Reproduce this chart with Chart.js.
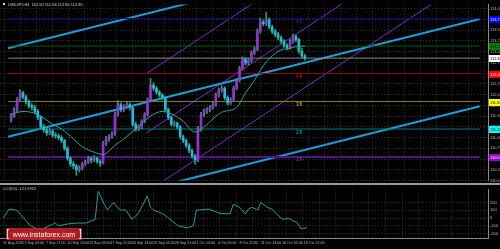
<!DOCTYPE html>
<html>
<head>
<meta charset="utf-8">
<script src="https://cdn.jsdelivr.net/npm/chart.js@4.4.0/dist/chart.umd.js"></script>
<style>
    html, body { margin: 0; padding: 0; background: #000; }
    #wrap { position: relative; width: 500px; height: 249px; overflow: hidden; background: #000; }
    #wrap canvas { position: absolute; left: 0; }
    #main { top: 0; }
    #sub { top: 185px; }
    #logo {
        position: absolute; left: 6px; top: 228px; width: 76px; height: 12px;
        background: rgba(200, 32, 42, 0.88); color: #fff;
        font: 7px "Liberation Sans", Arial, sans-serif; line-height: 12px;
        text-align: center; white-space: nowrap;
    }
    #logo b { font-weight: normal; font-size: 10px; }
</style>
</head>
<body>
<div id="wrap">
    <canvas id="main" width="500" height="185"></canvas>
    <canvas id="sub" width="500" height="64"></canvas>
    <div id="logo"><b>[</b>&nbsp; www.instaforex.com &nbsp;<b>]</b></div>
</div>
<script>
// ---- data ----
const symbolTitle = 'USDJPY,H4  112.90 112.94 112.80 112.85';
const cciTitle = 'CCI(50) -121.9952';

const opens = [111.42,111.50,111.65,111.88,112.04,111.95,111.83,111.74,111.70,111.61,
111.47,111.25,111.18,111.11,111.16,111.06,111.04,111.00,110.93,110.75,
110.52,110.39,110.34,110.25,110.29,110.39,110.43,110.52,110.48,110.52,
110.45,110.41,110.86,110.97,111.02,111.09,111.54,111.77,111.65,111.72,
111.77,111.70,111.31,111.20,111.25,111.38,111.54,111.88,112.22,112.15,
112.06,111.99,111.93,111.65,111.47,111.31,111.34,111.25,111.02,110.93,
110.82,110.70,110.57,110.48,111.20,111.54,111.61,111.65,111.70,111.77,
111.99,112.11,112.15,111.93,111.81,111.88,112.15,112.33,112.61,112.83,
112.74,112.79,112.97,113.06,113.47,113.69,113.65,113.74,113.58,113.47,
113.40,113.33,113.24,113.15,113.10,113.24,113.35,113.28,113.01,112.90];

const highs = [111.56,111.70,111.93,112.12,112.08,111.99,111.88,111.79,111.75,111.66,
111.50,111.31,111.22,111.21,111.19,111.12,111.09,111.05,110.96,110.79,
110.56,110.44,110.38,110.35,110.43,110.48,110.57,110.56,110.58,110.55,
110.49,110.92,111.03,111.07,111.14,111.60,111.86,111.81,111.77,111.83,
111.81,111.73,111.36,111.30,111.42,111.58,111.92,112.38,112.28,112.19,
112.10,112.03,111.96,111.69,111.51,111.39,111.37,111.28,111.06,110.97,
110.86,110.74,110.61,111.26,111.59,111.67,111.70,111.75,111.82,112.04,
112.16,112.21,112.18,111.97,111.93,112.20,112.38,112.66,112.88,112.87,
112.85,113.02,113.12,113.53,113.78,113.74,113.92,113.79,113.62,113.52,
113.45,113.37,113.28,113.19,113.29,113.41,113.39,113.31,113.08,112.94];

const lows = [111.36,111.47,111.60,111.84,111.90,111.78,111.69,111.64,111.55,111.42,
111.20,111.12,111.05,111.07,111.01,110.99,110.95,110.88,110.70,110.47,
110.33,110.28,110.12,110.20,110.25,110.35,110.40,110.42,110.44,110.40,
110.33,110.38,110.82,110.91,110.98,111.05,111.50,111.60,111.61,111.68,
111.64,111.26,111.15,111.16,111.21,111.34,111.50,111.85,112.10,112.01,
111.94,111.88,111.60,111.42,111.27,111.26,111.20,110.97,110.88,110.77,
110.65,110.52,110.38,110.44,111.15,111.49,111.56,111.60,111.66,111.73,
111.95,112.06,111.88,111.76,111.77,111.84,112.11,112.29,112.57,112.69,
112.70,112.75,112.93,113.02,113.43,113.60,113.61,113.53,113.42,113.35,
113.28,113.19,113.10,113.04,113.06,113.20,113.23,112.96,112.85,112.80];

const closes = [111.50,111.65,111.88,112.04,111.95,111.83,111.74,111.70,111.61,111.47,
111.25,111.18,111.11,111.16,111.06,111.04,111.00,110.93,110.75,110.52,
110.39,110.34,110.25,110.29,110.39,110.43,110.52,110.48,110.52,110.45,
110.41,110.86,110.97,111.02,111.09,111.54,111.77,111.65,111.72,111.77,
111.70,111.31,111.20,111.25,111.38,111.54,111.88,112.22,112.15,112.06,
111.99,111.93,111.65,111.47,111.31,111.34,111.25,111.02,110.93,110.82,
110.70,110.57,110.48,111.20,111.54,111.61,111.65,111.70,111.77,111.99,
112.11,112.15,111.93,111.81,111.88,112.15,112.33,112.61,112.83,112.74,
112.79,112.97,113.06,113.47,113.69,113.65,113.74,113.58,113.47,113.40,
113.33,113.24,113.15,113.10,113.24,113.35,113.28,113.01,112.90,112.85];

// moving average (teal curve)
const maIndex = [0,4,9,14,17,21,24,28,31,35,38,42,47,51,55,58,62,65,71,76,79,82,85,88,91,94,97,99];
const maValues = [111.54,111.61,111.54,111.31,111.20,110.97,110.79,110.66,110.61,110.82,110.97,111.20,111.50,111.61,
                  111.52,111.38,111.13,111.25,111.59,111.70,112.04,112.33,112.67,112.90,113.04,113.08,113.13,113.13];

// Murray levels
const levelValues = [113.77, 113.13, 112.49, 111.84, 111.20, 110.55];
const levelNames = ['6/8', '5/8', '4/8', '3/8', '2/8', '1/8'];
const lastPrice = 112.85;

// trend channels (bar index, price)
const blueX = [-1, 158];
const blueUpper = [113.08, 115.82];
const blueMiddle = [111.02, 113.76];
const blueLowerX = [50, 158];
const blueLower = [109.87, 111.73];
const purpleX = [45.6, 160];
const purpleUpper = [112.49, 117.70];
const purpleMiddle = [111.11, 116.32];
const purpleLower = [109.73, 114.94];

// CCI sub window
const cciIndex = [0,2,4,5,7,9,11,13,15,17,18,21,24,27,30,31,32,33,34,36,38,40,42,44,47,48,49,52,54,57,
                  60,62,63,64,67,71,74,75,77,79,80,81,83,84,86,88,89,91,93,96,97,98,99];
const cciValues = [-4,116,104,80,-16,-100,-136,-136,-100,-64,-100,-76,-64,-64,-16,344,260,176,104,200,104,104,-16,56,284,140,104,56,-4,-100,
                   -124,-100,104,104,116,56,56,176,140,56,116,140,104,200,140,104,56,-16,-4,-64,-136,-136,-122];

// axis labels
const priceTicks = [110.00,110.25,110.50,110.75,111.00,111.25,111.50,111.75,112.00,112.25,112.50,112.75,113.00,113.25,113.50,113.75,114.00];
const cciTicks = [200, 100, 0, -100, -200];
const dateIdx = [0, 7, 14, 21, 28, 35, 42, 49, 56, 63, 70, 77, 84, 91, 98];
const dateLabels = ['31 Aug 2018','3 Sep 03:00','7 Sep 17:00','10 Sep 13:00','13 Sep 09:00','17 Sep 21:00','20 Sep 13:00',
                    '25 Sep 05:00','26 Sep 21:00','1 Oct 13:00','4 Oct 05:00','8 Oct 21:00','11 Oct 13:00','16 Oct 05:00','18 Oct 21:00'];

// ---- styles ----
const FONT = '"Liberation Sans", Arial, sans-serif';
const BULL = '#9a2fd8';
const BEAR = '#22b8ec';
const WICK = '#2aa84c';
const GRID = '#363636';
const levelLineColors = ['#0c0c86', '#0a5a0a', '#a00000', '#858500', '#007f7f', '#54128a'];
const levelTextColors = ['#2a2ad0', '#1a8a1a', '#d01010', '#c8c800', '#10b0b0', '#8a2be2'];
const levelBoxColors = ['#0000ff', '#008000', '#ff0000', '#ffff00', '#00ffff', '#9400d3'];
const levelBoxText = ['#fff', '#000', '#fff', '#000', '#000', '#fff'];
const X_MIN = -1, X_MAX = 158;

const gridCols = s => {
    const t = [];
    for (let v = 0.4; v <= X_MAX; v += 5.4) t.push({ value: v });
    s.ticks = t;
};

const seg = (xs, ys) => [{ x: xs[0], y: ys[0] }, { x: xs[1], y: ys[1] }];
const lineDs = (data, color, width) => ({
    type: 'line', data, borderColor: color, borderWidth: width,
    pointRadius: 0, fill: false, order: 5
});

const datasets = [];
levelValues.forEach((v, i) => {
    datasets.push(lineDs(seg(blueX, [v, v]), levelLineColors[i], i === 5 ? 2 : 1));
});
datasets.push(lineDs(seg(blueX, [lastPrice, lastPrice]), '#8a8a8a', 1));
datasets.push(lineDs(seg(blueX, blueUpper), '#1c9ed8', 2));
datasets.push(lineDs(seg(blueX, blueMiddle), '#1c9ed8', 2));
datasets.push(lineDs(seg(blueLowerX, blueLower), '#1c9ed8', 2));
datasets.push(lineDs(seg(purpleX, purpleUpper), '#7e28d0', 1));
datasets.push(lineDs(seg(purpleX, purpleMiddle), '#7e28d0', 1));
datasets.push(lineDs(seg(purpleX, purpleLower), '#7e28d0', 1));

datasets.push({
    type: 'bar', order: 3, grouped: false, barThickness: 1,
    data: opens.map((o, i) => ({ x: i, y: [lows[i], highs[i]] })),
    backgroundColor: WICK, borderWidth: 0
});
datasets.push({
    type: 'bar', order: 2, grouped: false, barThickness: 2,
    data: opens.map((o, i) => ({ x: i, y: [o, closes[i]] })),
    backgroundColor: opens.map((o, i) => closes[i] >= o ? BULL : BEAR), borderWidth: 0
});
datasets.push({
    type: 'line', order: 1, data: maIndex.map((x, i) => ({ x, y: maValues[i] })),
    borderColor: '#1fa9a0', borderWidth: 1, pointRadius: 0, fill: false, cubicInterpolationMode: 'monotone'
});

const mainOverlay = {
    id: 'mainOverlay',
    afterDatasetsDraw(chart) {
        const { ctx, scales: { x, y } } = chart;
        ctx.save();
        ctx.font = '4.5px ' + FONT;
        ctx.textBaseline = 'top';
        levelValues.forEach((v, i) => {
            ctx.fillStyle = levelTextColors[i];
            ctx.fillText(levelNames[i], x.getPixelForValue(96), y.getPixelForValue(v) + 1);
        });
        ctx.restore();
    },
    afterDraw(chart) {
        const { ctx, chartArea, scales: { y } } = chart;
        ctx.save();
        const box = (val, bg, fg) => {
            const py = Math.round(y.getPixelForValue(val));
            ctx.fillStyle = bg;
            ctx.fillRect(chartArea.right + 1, py - 3, 12, 7);
            ctx.fillStyle = fg;
            ctx.font = '4px ' + FONT;
            ctx.textBaseline = 'middle';
            ctx.fillText(val.toFixed(2), chartArea.right + 2, py + 0.5);
        };
        levelValues.forEach((v, i) => box(v, levelBoxColors[i], levelBoxText[i]));
        box(lastPrice, '#ffffff', '#000');

        ctx.fillStyle = '#d8d8d8';
        ctx.fillRect(3, 3, 2, 2);
        ctx.font = '4px ' + FONT;
        ctx.textBaseline = 'middle';
        ctx.fillText(symbolTitle, 8, 4.5);

        ctx.fillStyle = '#9a9a9a';
        ctx.fillRect(0, 183, 500, 2);
        ctx.restore();
    }
};

new Chart(document.getElementById('main'), {
    data: { datasets },
    options: {
        responsive: false, animation: false, devicePixelRatio: 1,
        layout: { padding: { top: 1, bottom: 3, left: 0, right: 0 } },
        plugins: { legend: { display: false }, tooltip: { enabled: false } },
        scales: {
            x: {
                type: 'linear', min: X_MIN, max: X_MAX, afterBuildTicks: gridCols,
                grid: { color: GRID, drawTicks: false },
                border: { display: false, dash: [1, 2] },
                ticks: { display: false }
            },
            y: {
                type: 'linear', position: 'right', min: 110.0, max: 114.1,
                afterBuildTicks: s => { s.ticks = priceTicks.map(v => ({ value: v })); },
                afterFit: s => { s.width = 12; },
                grid: { color: GRID, drawTicks: false },
                border: { display: true, color: '#8a8a8a', width: 1, dash: [1, 2] },
                ticks: { color: '#bdbdbd', autoSkip: false, padding: 2, font: { size: 4, family: FONT },
                         callback: v => Number(v).toFixed(2) }
            }
        }
    },
    plugins: [mainOverlay]
});

const subOverlay = {
    id: 'subOverlay',
    afterDraw(chart) {
        const { ctx, chartArea } = chart;
        ctx.save();
        ctx.fillStyle = '#cfcfcf';
        ctx.font = '4px ' + FONT;
        ctx.textBaseline = 'middle';
        ctx.fillText(cciTitle, 3, 4);
        ctx.fillStyle = '#8a8a8a';
        ctx.fillRect(0, Math.round(chartArea.bottom), chartArea.right, 1);
        ctx.restore();
    }
};

new Chart(document.getElementById('sub'), {
    type: 'line',
    data: {
        datasets: [{
            data: cciIndex.map((x, i) => ({ x, y: cciValues[i] })),
            borderColor: '#1f9f9a', borderWidth: 1, pointRadius: 0, fill: false, tension: 0
        }]
    },
    options: {
        responsive: false, animation: false, devicePixelRatio: 1,
        layout: { padding: { top: 1, bottom: 0, left: 0, right: 0 } },
        plugins: { legend: { display: false }, tooltip: { enabled: false } },
        scales: {
            x: {
                type: 'linear', min: X_MIN, max: X_MAX, afterBuildTicks: gridCols,
                grid: { color: GRID, drawTicks: false },
                border: { display: false, dash: [1, 2] },
                ticks: { display: false }
            },
            xd: {
                type: 'linear', position: 'bottom', min: X_MIN, max: X_MAX,
                afterBuildTicks: s => { s.ticks = dateIdx.map(v => ({ value: v })); },
                afterFit: s => { s.height = 11; },
                grid: { display: false, drawTicks: false },
                border: { display: false },
                ticks: { color: '#bdbdbd', autoSkip: false, maxRotation: 0, minRotation: 0, align: 'start', padding: 3,
                         font: { size: 3.6, family: FONT },
                         callback: (v, i) => dateLabels[i] }
            },
            y: {
                type: 'linear', position: 'right', min: -256, max: 368,
                afterBuildTicks: s => { s.ticks = cciTicks.map(v => ({ value: v })); },
                afterFit: s => { s.width = 12; },
                grid: { color: GRID, drawTicks: false },
                border: { display: true, color: '#8a8a8a', width: 1, dash: [1, 2] },
                ticks: { color: '#bdbdbd', autoSkip: false, padding: 2, font: { size: 4, family: FONT } }
            }
        }
    },
    plugins: [subOverlay]
});
</script>
</body>
</html>
